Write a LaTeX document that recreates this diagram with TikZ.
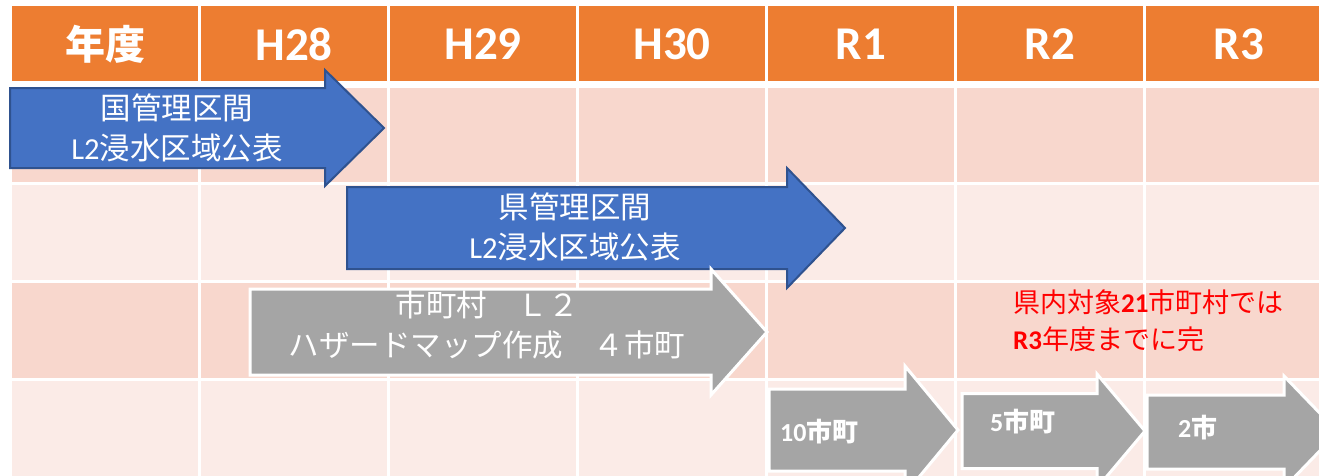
\documentclass[tikz,border=0pt]{standalone}
\usepackage{fontspec}
\setmainfont{Noto Sans CJK JP}
\newfontfamily\lat{Carlito}
\definecolor{hdr}{HTML}{ED7D31}
\definecolor{bandA}{HTML}{F8D7CD}
\definecolor{bandB}{HTML}{FBEBE7}
\definecolor{bluefill}{HTML}{4472C4}
\definecolor{blueline}{HTML}{2F528F}
\definecolor{grayfill}{HTML}{A5A5A5}
\definecolor{notered}{HTML}{FF0000}
% #1 style, #2 left x, #3 head start x, #4 tip x, #5 centre y, #6 body half height, #7 head half height
\newcommand\fatarrow[7]{\draw[#1] (#2,{#5-#6}) -- (#3,{#5-#6}) -- (#3,{#5-#7}) -- (#4,#5) -- (#3,{#5+#7}) -- (#3,{#5+#6}) -- (#2,{#5+#6}) -- cycle;}
\begin{document}
\begin{tikzpicture}[x=1pt,y=-1pt,
  hdrcjk/.style={inner sep=0pt,text=white,font=\bfseries\fontsize{40}{40}\selectfont},
  hdrlat/.style={inner sep=0pt,text=white,font=\lat\bfseries\fontsize{47}{47}\selectfont},
  bluearrow/.style={fill=bluefill,draw=blueline,line width=2pt,line join=miter},
  grayarrow/.style={fill=grayfill,draw=white,line width=3pt,line join=miter},
  arrowtext/.style={inner sep=0pt,text=white,align=center,font=\fontsize{30.5}{40}\selectfont},
  steptext/.style={inner sep=0pt,text=white,anchor=west,font=\bfseries\fontsize{26}{26}\selectfont},
  notetext/.style={inner sep=0pt,text=notered,align=left,anchor=west,font=\fontsize{27}{37}\selectfont}]
\useasboundingbox (0,0) rectangle (1319,475);
\clip (0,0) rectangle (1319,475);
\fill[white] (0,0) rectangle (1319,475);
% table cells
\foreach \xa/\xb in {12/198,201/387,390/576,579/765,768/954,957/1143,1146/1332}{
  \fill[hdr] (\xa,6) rectangle (\xb,81);
  \fill[bandA] (\xa,88) rectangle (\xb,182);
  \fill[bandB] (\xa,185) rectangle (\xb,280);
  \fill[bandA] (\xa,283) rectangle (\xb,378);
  \fill[bandB] (\xa,381) rectangle (\xb,480);
}
% header texts
\node[hdrcjk] (hd0) at (105,44) {年度};
\node[hdrlat] (hd1) at (294,44) {H28};
\node[hdrlat] (hd2) at (483,44) {H29};
\node[hdrlat] (hd3) at (672,44) {H30};
\node[hdrlat] (hd4) at (861,44) {R1};
\node[hdrlat] (hd5) at (1050,44) {R2};
\node[hdrlat] (hd6) at (1239,44) {R3};
% arrows
\fatarrow{bluearrow}{10}{325}{384}{128}{40}{58}
\fatarrow{bluearrow}{347}{787}{845}{228}{41}{60}
\fatarrow{grayarrow}{250}{711}{767}{332}{43}{63}
\fatarrow{grayarrow}{769}{905}{958}{430}{41}{64}
\fatarrow{grayarrow}{962}{1097}{1145}{431}{37.5}{57}
\fatarrow{grayarrow}{1147}{1284}{1338}{432}{37}{56}
% arrow texts
\node[arrowtext] (tk) at (177,128) {国管理区間\\{\lat L2}浸水区域公表};
\node[arrowtext] (tp) at (575,227) {県管理区間\\{\lat L2}浸水区域公表};
\node[arrowtext] (tm) at (487,325) {市町村　Ｌ２\\ハザードマップ作成　４市町};
\node[steptext] (n10) at (780,432) {{\lat\bfseries 10}市町};
\node[steptext] (n5) at (990,422) {{\lat\bfseries 5}市町};
\node[steptext] (n2) at (1178,428) {{\lat\bfseries 2}市};
% note
\node[notetext] (note) at (1013,321) {県内対象{\lat\bfseries 21}市町村では\\{\lat\bfseries R3}年度までに完};
\end{tikzpicture}
\end{document}
